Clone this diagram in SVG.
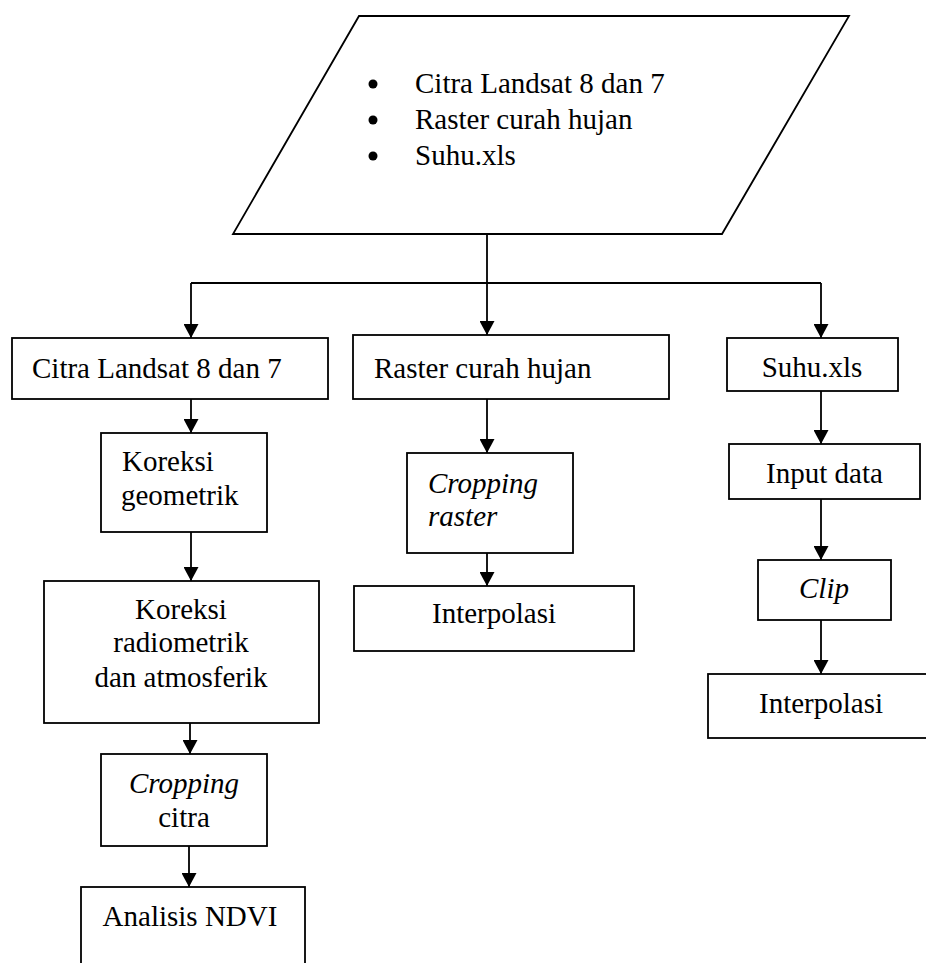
<svg xmlns="http://www.w3.org/2000/svg" width="926" height="963" viewBox="0 0 926 963">
<defs>
<style>
.shape{fill:#fff;stroke:#000;stroke-width:1.8}
.conn{fill:none;stroke:#000;stroke-width:1.8}
text{font-family:"Liberation Serif","Times New Roman",serif;font-size:29px;fill:#000}
.c{text-anchor:middle}
.i{font-style:italic}
</style>
<marker id="arr" markerUnits="userSpaceOnUse" markerWidth="15" markerHeight="15" refX="14" refY="7.5" orient="auto">
<path d="M0,0 L14,7.5 L0,15 z" fill="#000"/>
</marker>
</defs>
<rect width="926" height="963" fill="#fff"/>
<g id="connectors">
<path class="conn" d="M487,234 V283 M191,283 H821"/>
<path class="conn" marker-end="url(#arr)" d="M191,283 V338"/>
<path class="conn" marker-end="url(#arr)" d="M487,283 V335"/>
<path class="conn" marker-end="url(#arr)" d="M821,283 V338"/>
<path class="conn" marker-end="url(#arr)" d="M191,399 V433"/>
<path class="conn" marker-end="url(#arr)" d="M191,532 V581"/>
<path class="conn" marker-end="url(#arr)" d="M190,723 V754"/>
<path class="conn" marker-end="url(#arr)" d="M189,846 V887"/>
<path class="conn" marker-end="url(#arr)" d="M487,399 V453"/>
<path class="conn" marker-end="url(#arr)" d="M487,553 V586"/>
<path class="conn" marker-end="url(#arr)" d="M821,391 V444"/>
<path class="conn" marker-end="url(#arr)" d="M821,499 V560"/>
<path class="conn" marker-end="url(#arr)" d="M821,620 V674"/>
</g>
<g id="input">
<polygon class="shape" points="359,16 849,16 722,234 233,234"/>
<circle cx="373" cy="84" r="4.5"/>
<circle cx="373" cy="120" r="4.5"/>
<circle cx="373" cy="156" r="4.5"/>
<text x="415" y="93">Citra Landsat 8 dan 7</text>
<text x="415" y="129">Raster curah hujan</text>
<text x="415" y="165">Suhu.xls</text>
</g>
<g id="citra">
<rect class="shape" x="12" y="338" width="316" height="61"/>
<text x="32" y="378">Citra Landsat 8 dan 7</text>
</g>
<g id="raster">
<rect class="shape" x="353" y="335" width="316" height="64"/>
<text x="374" y="378">Raster curah hujan</text>
</g>
<g id="suhu">
<rect class="shape" x="727" y="338" width="171" height="53"/>
<text class="c" x="812" y="377">Suhu.xls</text>
</g>
<g id="koreksi-geometrik">
<rect class="shape" x="101" y="433" width="166" height="99"/>
<text x="122" y="471">Koreksi</text>
<text x="121" y="505">geometrik</text>
</g>
<g id="koreksi-radiometrik">
<rect class="shape" x="44" y="581" width="275" height="142"/>
<text class="c" x="181" y="619">Koreksi</text>
<text class="c" x="181" y="652">radiometrik</text>
<text class="c" x="181" y="687">dan atmosferik</text>
</g>
<g id="cropping-citra">
<rect class="shape" x="101" y="754" width="166" height="92"/>
<text class="c i" x="184" y="793">Cropping</text>
<text class="c" x="184" y="827">citra</text>
</g>
<g id="ndvi">
<rect class="shape" x="81" y="887" width="224" height="90"/>
<text class="c" x="190" y="926">Analisis NDVI</text>
</g>
<g id="cropping-raster">
<rect class="shape" x="407" y="453" width="166" height="100"/>
<text class="i" x="428" y="493">Cropping</text>
<text class="i" x="428" y="526">raster</text>
</g>
<g id="interpolasi-1">
<rect class="shape" x="354" y="586" width="280" height="65"/>
<text class="c" x="494" y="623">Interpolasi</text>
</g>
<g id="input-data">
<rect class="shape" x="729" y="444" width="191" height="55"/>
<text class="c" x="824.5" y="483">Input data</text>
</g>
<g id="clip">
<rect class="shape" x="758" y="560" width="133" height="60"/>
<text class="c i" x="824" y="598">Clip</text>
</g>
<g id="interpolasi-2">
<rect class="shape" x="708" y="674" width="240" height="64"/>
<text class="c" x="821" y="713">Interpolasi</text>
</g>
</svg>
